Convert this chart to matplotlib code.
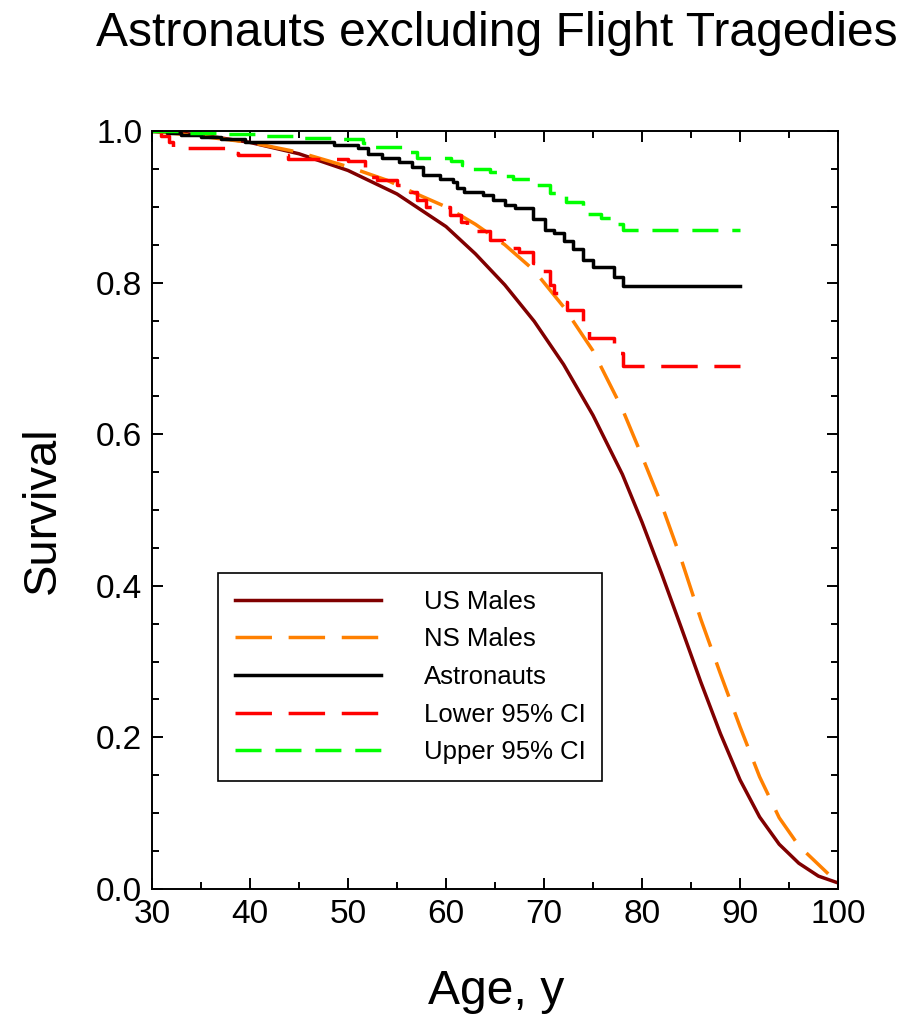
import matplotlib
matplotlib.use('Agg')
import matplotlib.pyplot as plt
from matplotlib.ticker import MultipleLocator

plt.rcParams['font.family'] = ['Liberation Sans', 'DejaVu Sans']

# US male population survival
us_age = [30, 35, 40, 45, 50, 55, 60, 63, 66, 69, 72, 75, 78, 80, 82,
          84, 86, 88, 90, 92, 94, 96, 98, 100]
us_surv = [1.0, 0.995, 0.985, 0.970, 0.948, 0.917, 0.874, 0.838, 0.797,
           0.749, 0.692, 0.625, 0.547, 0.484, 0.416, 0.345, 0.273, 0.205,
           0.144, 0.095, 0.059, 0.034, 0.017, 0.008]

# non-smoking males
ns_age = [30, 35, 40, 45, 50, 54, 57, 60, 63, 66, 69, 72, 75, 78, 80, 82,
          84, 86, 88, 90, 92, 94, 96, 99]
ns_surv = [1.0, 0.993, 0.985, 0.972, 0.953, 0.935, 0.917, 0.900, 0.877,
           0.850, 0.816, 0.768, 0.710, 0.633, 0.571, 0.507, 0.435, 0.356,
           0.284, 0.214, 0.148, 0.094, 0.057, 0.020]

# Kaplan-Meier estimate for astronauts
astro_age = [30, 31.5, 33, 35, 37, 39.5, 48.6, 51.0, 52.0, 53.5, 55.2, 56.5,
             57.7, 59.4, 60.7, 61.1, 61.8, 63.8, 64.8, 66.0, 67.0, 68.9,
             70.1, 71.0, 72.0, 73.0, 74.0, 75.0, 77.1, 78.1, 90.0]
astro_surv = [1.0, 0.998, 0.995, 0.992, 0.989, 0.986, 0.982, 0.978, 0.970,
              0.964, 0.959, 0.953, 0.942, 0.937, 0.933, 0.925, 0.920, 0.915,
              0.909, 0.902, 0.898, 0.884, 0.870, 0.865, 0.855, 0.845, 0.830,
              0.821, 0.808, 0.796, 0.796]

lower_age = [30, 30.9, 31.7, 32.1, 37.5, 38.8, 43.9, 50.0, 51.7, 51.9, 53.0,
             55.0, 56.3, 57.0, 58.0, 60.4, 61.5, 62.1, 64.5, 65.9, 67.5,
             68.9, 69.3, 70.6, 71.0, 72.0, 72.3, 74.0, 74.6, 77.1, 78.1, 90.0]
lower_surv = [1.0, 0.994, 0.985, 0.977, 0.971, 0.968, 0.963, 0.960, 0.951,
              0.940, 0.935, 0.929, 0.920, 0.909, 0.900, 0.889, 0.880, 0.868,
              0.856, 0.846, 0.840, 0.826, 0.815, 0.797, 0.786, 0.775, 0.764,
              0.738, 0.727, 0.707, 0.690, 0.690]

upper_age = [30, 33.0, 37.5, 41.0, 45.0, 49.0, 51.5, 52.5, 56.0, 57.0, 60.5,
             61.6, 62.1, 64.5, 65.5, 66.8, 69.1, 70.6, 71.3, 72.2, 74.0,
             75.8, 77.3, 78.1, 90.0]
upper_surv = [1.0, 0.998, 0.996, 0.993, 0.991, 0.989, 0.984, 0.979, 0.972,
              0.964, 0.960, 0.955, 0.950, 0.946, 0.941, 0.937, 0.929, 0.918,
              0.915, 0.907, 0.891, 0.885, 0.878, 0.869, 0.869]

fig = plt.figure(figsize=(9.09, 10.19), dpi=100)
ax = fig.add_axes([0.1672, 0.1276, 0.7547, 0.7438])

lw = 2.5
ax.plot(us_age, us_surv, color='#800000', lw=lw, label='US Males')
ax.plot(ns_age, ns_surv, color='#FF8000', lw=lw, dashes=(10.5, 4.8),
        label='NS Males')
ax.plot(astro_age, astro_surv, color='black', lw=lw, drawstyle='steps-post',
        label='Astronauts')
ax.plot(lower_age, lower_surv, color='#FF0000', lw=lw, dashes=(10.5, 4.8),
        drawstyle='steps-post', label='Lower 95% CI')
ax.plot(upper_age, upper_surv, color='#00FF00', lw=lw, dashes=(7.5, 4),
        drawstyle='steps-post', label='Upper 95% CI')

ax.set_xlim(30, 100)
ax.set_ylim(0, 1.0)
ax.xaxis.set_major_locator(MultipleLocator(10))
ax.xaxis.set_minor_locator(MultipleLocator(5))
ax.yaxis.set_major_locator(MultipleLocator(0.2))
ax.yaxis.set_minor_locator(MultipleLocator(0.05))
ax.yaxis.set_major_formatter(plt.FormatStrFormatter('%.1f'))
ax.tick_params(which='both', direction='in', top=True, right=True,
               width=1.4, labelsize=24)
ax.tick_params(which='major', length=8, pad=7)
ax.tick_params(which='minor', length=5)
for sp in ax.spines.values():
    sp.set_linewidth(1.4)

fig.text(497 / 909, 1 - 33 / 1019, 'Astronauts excluding Flight Tragedies',
         fontsize=34.6, ha='center', va='center')
fig.text(496 / 909, 1 - 992 / 1019, 'Age, y', fontsize=34.6,
         ha='center', va='center')
fig.text(43 / 909, 1 - 510 / 1019, 'Survival', fontsize=34, rotation=90,
         ha='center', va='center')

leg = ax.legend(loc='upper left', bbox_to_anchor=(0.0962, 0.4169),
                borderaxespad=0, fontsize=18.5, fancybox=False,
                edgecolor='black', framealpha=1, handlelength=5.7,
                handletextpad=1.65, labelspacing=0.53, borderpad=0.65)
leg.get_frame().set_linewidth(1.2)

fig.savefig('out.png', dpi=100)
